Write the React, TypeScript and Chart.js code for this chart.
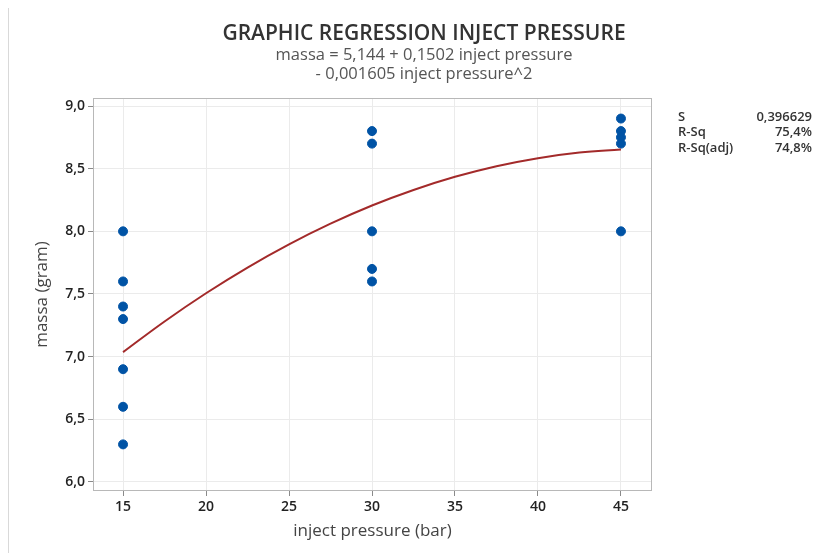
import React, { useEffect, useRef } from "react";
import { Chart, registerables } from "chart.js";
Chart.register(...registerables);

const titleText = "GRAPHIC REGRESSION INJECT PRESSURE";
const subtitleLines = ["massa = 5,144 + 0,1502 inject pressure", "- 0,001605 inject pressure^2"];
const xTicks = [15, 20, 25, 30, 35, 40, 45];
const yTicks = [6.0, 6.5, 7.0, 7.5, 8.0, 8.5, 9.0];
const pressure = [15, 15, 15, 15, 15, 15, 15, 30, 30, 30, 30, 30, 45, 45, 45, 45, 45];
const massa = [8.0, 7.6, 7.4, 7.3, 6.9, 6.6, 6.3, 8.8, 8.7, 8.0, 7.7, 7.6, 8.9, 8.8, 8.75, 8.7, 8.0];
const fitX = [15, 17.5, 20, 22.5, 25, 27.5, 30, 32.5, 35, 37.5, 40, 42.5, 45];
const fitY = [7.036, 7.281, 7.506, 7.711, 7.896, 8.061, 8.206, 8.33, 8.435, 8.52, 8.584, 8.629, 8.653];
const statLabels = ["S", "R-Sq", "R-Sq(adj)"];
const statValues = ["0,396629", "75,4%", "74,8%"];

const FONT = "'Open Sans', 'Noto Sans', sans-serif";

export default function App() {
  const ref = useRef<HTMLCanvasElement | null>(null);
  useEffect(() => {
    if (!ref.current) return;
    const textPlugin = {
      id: "texts",
      afterDraw(chart: any) {
        const ctx = chart.ctx;
        const a = chart.chartArea;
        ctx.save();
        ctx.strokeStyle = "#b8b8b8";
        ctx.lineWidth = 1;
        ctx.strokeRect(a.left + 0.5, a.top + 0.5, a.right - a.left - 1, a.bottom - a.top - 1);
        ctx.textAlign = "center";
        ctx.textBaseline = "alphabetic";
        ctx.fillStyle = "#333333";
        ctx.font = `600 21px ${FONT}`;
        ctx.fillText(titleText, 415, 35);
        ctx.fillStyle = "#555555";
        ctx.font = `16.5px ${FONT}`;
        ctx.fillText(subtitleLines[0], 415, 55);
        ctx.fillText(subtitleLines[1], 415, 74);
        ctx.font = `600 13px ${FONT}`;
        ctx.fillStyle = "#333333";
        ctx.textBaseline = "middle";
        statLabels.forEach((l, i) => {
          const y = a.top + 19 + i * 15.5;
          ctx.textAlign = "left";
          ctx.fillText(l, a.right + 26, y);
          ctx.textAlign = "right";
          ctx.fillText(statValues[i], a.right + 160, y);
        });
        ctx.restore();
      },
    };
    const chart = new Chart(ref.current, {
      type: "scatter",
      data: {
        datasets: [
          {
            type: "line",
            data: fitX.map((x, i) => ({ x, y: fitY[i] })),
            borderColor: "#a32a2a",
            borderWidth: 2,
            pointRadius: 0,
            tension: 0.4,
            fill: false,
          } as any,
          {
            data: pressure.map((x, i) => ({ x, y: massa[i] })),
            backgroundColor: "#0053a5",
            borderColor: "#0053a5",
            pointRadius: 4.5,
            pointHoverRadius: 4.5,
          },
        ],
      },
      options: {
        animation: false,
        responsive: false,
        layout: { padding: { top: 93, right: 174, left: 23, bottom: 12 } },
        plugins: { legend: { display: false }, tooltip: { enabled: false }, title: { display: false } },
        scales: {
          x: {
            type: "linear",
            min: 13.19,
            max: 46.87,
            afterBuildTicks: (s: any) => {
              s.ticks = xTicks.map((v) => ({ value: v }));
            },
            afterFit: (s: any) => {
              s.height = 50;
            },
            border: { display: false },
            grid: { color: "#ebebeb", tickColor: "#8a8a8a", tickLength: 5, lineWidth: 1 },
            ticks: {
              color: "#222222",
              font: { family: FONT, size: 14, weight: "600" as any },
              padding: 3,
              callback: (v: any) => String(v),
            },
            title: {
              display: true,
              text: "inject pressure (bar)",
              color: "#444444",
              font: { family: FONT, size: 17 },
              padding: { top: 4, bottom: 0 },
            },
          },
          y: {
            type: "linear",
            min: 5.928,
            max: 9.064,
            afterBuildTicks: (s: any) => {
              s.ticks = yTicks.map((v) => ({ value: v }));
            },
            afterFit: (s: any) => {
              s.width = 61;
            },
            border: { display: false },
            grid: { color: "#ebebeb", tickColor: "#8a8a8a", tickLength: 5, lineWidth: 1 },
            ticks: {
              color: "#222222",
              font: { family: FONT, size: 14, weight: "600" as any },
              padding: 3,
              callback: (v: any) => Number(v).toFixed(1).replace(".", ","),
            },
            title: {
              display: true,
              text: "massa (gram)",
              color: "#444444",
              font: { family: FONT, size: 17 },
              padding: { top: 0, bottom: 4 },
            },
          },
        },
      },
      plugins: [textPlugin],
    });
    return () => chart.destroy();
  }, []);
  return (
    <div
      style={{
        width: 817,
        height: 548,
        marginTop: -4,
        borderTop: "1px solid #d9d9d9",
        borderLeft: "1px solid #d9d9d9",
        position: "relative",
      }}
    >
      <canvas ref={ref} width={817} height={548} style={{ width: 817, height: 548, display: "block" }} />
    </div>
  );
}
